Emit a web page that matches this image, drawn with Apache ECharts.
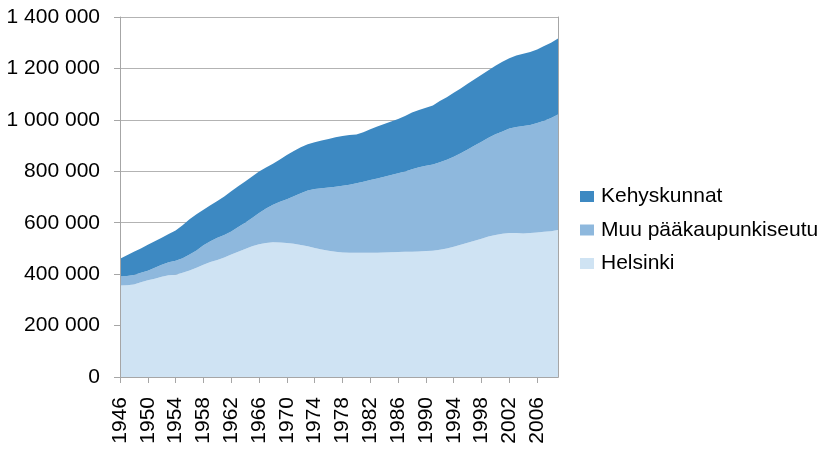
<!DOCTYPE html>
<html>
<head>
<meta charset="utf-8">
<title>Väestö</title>
<script src="https://cdn.jsdelivr.net/npm/echarts@6/dist/echarts.min.js"></script>
<style>
html, body { margin: 0; padding: 0; background: #fff; }
#chart { width: 835px; height: 452px; }
</style>
</head>
<body>
<div id="chart"></div>
<script>
// vuodet 1946-2009
var years = [];
for (var y = 1946; y <= 2009; y++) { years.push(String(y)); }

var helsinki = [
  356000, 357000, 360000, 368000, 376000, 382000, 390000, 396000, 398000, 405000,
  414000, 425000, 437000, 447000, 455000, 465000, 476000, 487000, 498000, 508000,
  516000, 521000, 524000, 523000, 521000, 518000, 513000, 508000, 502000, 496000,
  491000, 487000, 484000, 483000, 483000, 483000, 483000, 483000, 484000, 485000,
  486000, 487000, 487000, 488000, 490000, 491000, 495000, 500000, 507000, 514000,
  522000, 530000, 538000, 546000, 552000, 557000, 560000, 560000, 558000, 560000,
  562000, 565000, 567000, 572000
];

var muuPks = [
  35000, 36000, 37000, 37000, 37000, 43000, 47000, 50000, 54000, 57000,
  62000, 67000, 75000, 81000, 87000, 87000, 90000, 96000, 102000, 110000,
  122000, 134000, 146000, 159000, 170000, 185000, 202000, 217000, 229000, 238000,
  246000, 253000, 260000, 265000, 270000, 276000, 283000, 289000, 295000, 301000,
  306000, 312000, 321000, 328000, 332000, 335000, 340000, 345000, 350000, 356000,
  363000, 370000, 377000, 384000, 392000, 398000, 406000, 412000, 418000, 420000,
  426000, 432000, 440000, 449000
];

var kehys = [
  69000, 80000, 90000, 95000, 101000, 103000, 105000, 110000, 118000, 128000,
  137000, 141000, 138000, 140000, 142000, 150000, 156000, 159000, 160000, 162000,
  161000, 160000, 159000, 164000, 172000, 176000, 178000, 180000, 182000, 186000,
  189000, 192000, 193000, 193000, 190000, 193000, 197000, 202000, 205000, 208000,
  211000, 216000, 221000, 222000, 225000, 230000, 238000, 243000, 248000, 252000,
  255000, 258000, 260000, 263000, 266000, 271000, 274000, 278000, 281000, 284000,
  286000, 290000, 293000, 295000
];

var seriesNames = ['Kehyskunnat', 'Muu pääkaupunkiseutu', 'Helsinki'];
var yTicks = [0, 200000, 400000, 600000, 800000, 1000000, 1200000, 1400000];

var font = '"Liberation Sans", Arial, sans-serif';
var lineGray = '#a6a6a6';

function fmt(v) {
  return String(v).replace(/\B(?=(\d{3})+(?!\d))/g, ' ');
}

var chart = echarts.init(document.getElementById('chart'));
var yMin = yTicks[0], yMax = yTicks[yTicks.length - 1], yStep = yTicks[1] - yTicks[0];

var option = {
  animation: false,
  color: ['#3d89c2', '#8eb8dd', '#cfe3f3'],
  grid: { left: 120, right: 277, top: 17, bottom: 75, containLabel: false },
  legend: {
    data: seriesNames,
    orient: 'vertical',
    left: 580,
    top: 186,
    padding: 0,
    itemWidth: 14,
    itemHeight: 11,
    itemGap: 12.5,
    icon: 'rect',
    textStyle: { fontFamily: font, fontSize: 21, lineHeight: 21, color: '#000', padding: [0, 0, 0, 2] }
  },
  xAxis: [
    {
      type: 'category',
      data: years,
      boundaryGap: false,
      position: 'bottom',
      z: 10,
      axisLine: { lineStyle: { color: lineGray, width: 1 } },
      axisTick: { show: true, interval: 3, length: 6, lineStyle: { color: lineGray } },
      axisLabel: { interval: 3, rotate: 90, margin: 20, fontFamily: font, fontSize: 21, color: '#000' },
      splitLine: { show: false }
    },
    {
      // yläreuna
      type: 'category',
      data: years,
      boundaryGap: false,
      position: 'top',
      z: 10,
      axisLine: { lineStyle: { color: lineGray, width: 1 } },
      axisTick: { show: false },
      axisLabel: { show: false },
      splitLine: { show: false }
    }
  ],
  yAxis: [
    {
      type: 'value',
      min: yMin, max: yMax, interval: yStep,
      position: 'left',
      z: 10,
      axisLine: { show: true, lineStyle: { color: lineGray, width: 1 } },
      axisTick: { show: true, length: 6, lineStyle: { color: lineGray } },
      axisLabel: { margin: 20, fontFamily: font, fontSize: 21, color: '#000', formatter: fmt },
      splitLine: { show: false }
    },
    {
      // oikea reuna
      type: 'value',
      min: yMin, max: yMax, interval: yStep,
      position: 'right',
      z: 10,
      axisLine: { show: true, lineStyle: { color: lineGray, width: 1 } },
      axisTick: { show: false },
      axisLabel: { show: false },
      splitLine: { show: false }
    },
    {
      // vaakaviivat alueiden alle
      type: 'value',
      min: yMin, max: yMax, interval: yStep,
      position: 'left',
      z: 0,
      axisLine: { show: false },
      axisTick: { show: false },
      axisLabel: { show: false },
      splitLine: { show: true, lineStyle: { color: '#b3b3b3', width: 1 } }
    }
  ],
  series: [
    {
      name: 'Helsinki', type: 'line', stack: 'vaesto',
      data: helsinki, showSymbol: false, symbol: 'none',
      lineStyle: { width: 0 },
      areaStyle: { color: '#cfe3f3', opacity: 1 },
      itemStyle: { color: '#cfe3f3' }
    },
    {
      name: 'Muu pääkaupunkiseutu', type: 'line', stack: 'vaesto',
      data: muuPks, showSymbol: false, symbol: 'none',
      lineStyle: { width: 0 },
      areaStyle: { color: '#8eb8dd', opacity: 1 },
      itemStyle: { color: '#8eb8dd' }
    },
    {
      name: 'Kehyskunnat', type: 'line', stack: 'vaesto',
      data: kehys, showSymbol: false, symbol: 'none',
      lineStyle: { width: 0 },
      areaStyle: { color: '#3d89c2', opacity: 1 },
      itemStyle: { color: '#3d89c2' }
    }
  ]
};

chart.setOption(option);
</script>
</body>
</html>
